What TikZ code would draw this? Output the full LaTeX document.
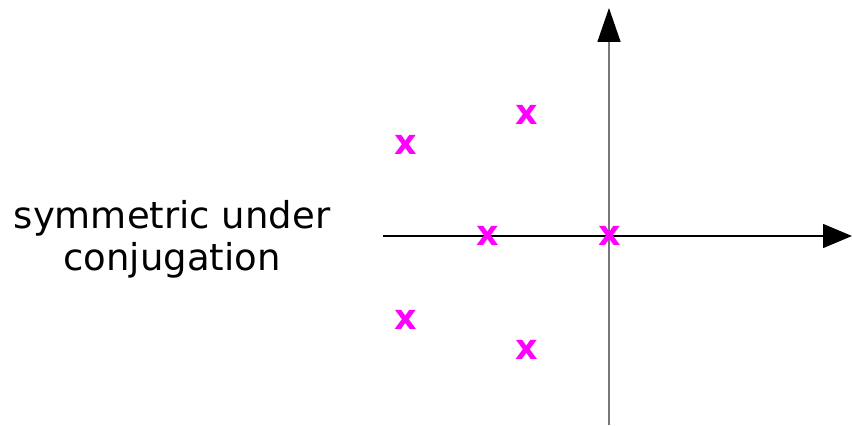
\documentclass[tikz,border=0pt]{standalone}
\usepackage{fontspec}
\setmainfont{DejaVu Sans}
\usetikzlibrary{arrows.meta,positioning}
\definecolor{magenta}{HTML}{FF00FF}
\definecolor{gris}{HTML}{777777}

\begin{document}
\begin{tikzpicture}[x=1pt,y=1pt,line cap=butt,
    polo/.style={magenta,inner sep=0pt,font=\fontsize{35}{35}\selectfont\bfseries},
    eje/.style={line width=1.5pt}]
    \useasboundingbox (-609,-190) rectangle (243,236);
    % --- ejes ---
    \coordinate (O) at (0,0);
    \coordinate (Xi) at (-226,0);   \coordinate (Xf) at (243,0);
    \coordinate (Yi) at (0,-189);   \coordinate (Yf) at (0,228);
    \draw[eje,black,-{Triangle[length=29pt,width=24pt]}] (Xi) -- (Xf);
    \draw[eje,gris,-{Triangle[length=34pt,width=23pt,black]}] (Yi) -- (Yf);
    % --- polos ---
    \node[polo] (p1) at (-203,91)  {x};
    \node[polo] (p2) at (-82,121)  {x};
    \node[polo] (p3) at (-121,0.5) {x};
    \node[polo] (p4) at (1,0.5)    {x};
    \node[polo] (p5) at (-203,-84) {x};
    \node[polo] (p6) at (-82,-114) {x};
    % --- texto ---
    \node[align=center,inner sep=0pt,font=\fontsize{37}{42}\selectfont]
         (txt) at (-437,-3) {symmetric under\\conjugation};
\end{tikzpicture}
\end{document}
